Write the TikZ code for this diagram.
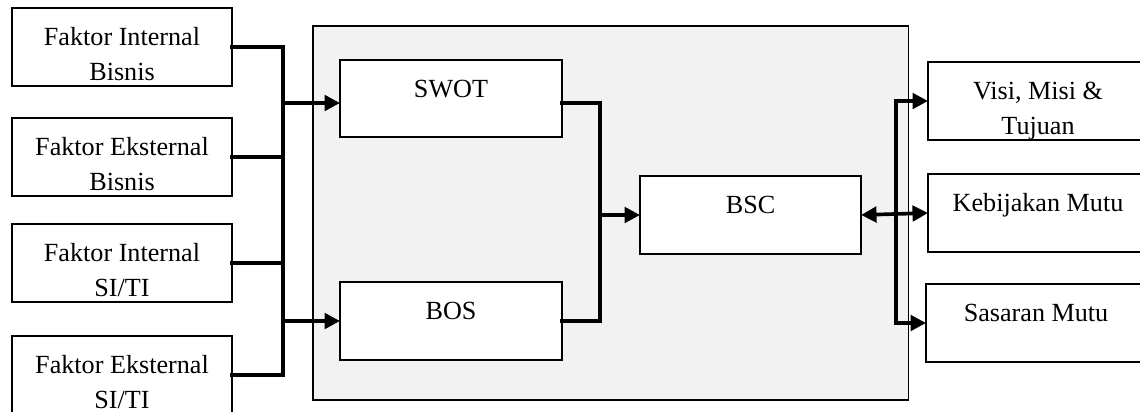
\documentclass[tikz,border=0pt]{standalone}
\usepackage{fontspec}
\setmainfont{Liberation Serif}
\usetikzlibrary{arrows.meta,calc,positioning}
\begin{document}
\begin{tikzpicture}[
      x=0.025cm, y=-0.025cm,
      kotak/.style = {draw, line width=1.1pt, fill=white, minimum width=5.5cm,
                      minimum height=1.95cm, inner sep=0pt, outer sep=0pt, anchor=north west},
      teks/.style = {font=\fontsize{18.6}{24.8}\selectfont, align=center, inner sep=0pt, anchor=base},
      alir/.style = {line width=2.6pt, line cap=rect},
      panah/.style = {alir, -{Triangle[length=11pt,width=11pt]}},
      dua/.style = {alir, {Triangle[length=11pt,width=11pt]}-{Triangle[length=11pt,width=11pt]}}
      ]
      \useasboundingbox (0,0) rectangle (1140,412);
      \clip (0,0) rectangle (1140,412);
      % panel tengah
      \node[draw, line width=0.9pt, fill=gray!10, minimum width=14.875cm, minimum height=9.35cm,
            inner sep=0pt, outer sep=0pt, anchor=north west] (panel) at (313,26) {};
      % kotak kiri
      \node[kotak] (fib) at (12,8) {};
      \node[kotak] (feb) at (12,118) {};
      \node[kotak] (fis) at (12,224) {};
      \node[kotak] (fes) at (12,336) {};
      % kotak tengah
      \node[kotak, minimum width=5.55cm, minimum height=1.925cm] (swot) at (340,60) {};
      \node[kotak, minimum width=5.55cm, minimum height=1.95cm] (bos) at (340,282) {};
      \node[kotak, minimum width=5.525cm] (bsc) at (640,176) {};
      % kotak kanan
      \node[kotak] (visi) at (928,62) {};
      \node[kotak] (keb) at (928,174) {};
      \node[kotak] (sas) at (926,284) {};
      % teks (dua baris: base = baris terakhir)
      \node[teks] (fib-t) at ([yshift=-1.815cm]fib.north) {Faktor Internal\\Bisnis};
      \node[teks] (feb-t) at ([yshift=-1.815cm]feb.north) {Faktor Eksternal\\Bisnis};
      \node[teks] (fis-t) at ([yshift=-1.815cm]fis.north) {Faktor Internal\\SI/TI};
      \node[teks] (fes-t) at ([yshift=-1.815cm]fes.north) {Faktor Eksternal\\SI/TI};
      \node[teks] (swot-t) at ([yshift=-0.94cm]swot.north) {SWOT};
      \node[teks] (bos-t) at ([yshift=-0.94cm]bos.north) {BOS};
      \node[teks] (bsc-t) at ([yshift=-0.94cm]bsc.north) {BSC};
      \node[teks] (visi-t) at ([yshift=-1.815cm]visi.north) {Visi, Misi \&\\Tujuan};
      \node[teks] (keb-t) at ([yshift=-0.94cm]keb.north) {Kebijakan Mutu};
      \node[teks] (sas-t) at ([yshift=-0.94cm]sas.north) {Sasaran Mutu};
      % garis bantu
      \coordinate (busL) at (283,0);
      \coordinate (busM) at (600,0);
      \coordinate (busR) at (896,0);
      \draw[alir] (fib.east) -- (fib.east -| busL) -- (fes.east -| busL) -- (fes.east);
      \draw[alir] (feb.east) -- (feb.east -| busL);
      \draw[alir] (fis.east) -- (fis.east -| busL);
      \draw[panah] ([yshift=-3.2pt]swot.west -| busL) -- ([yshift=-3.2pt]swot.west);
      \draw[panah] (bos.west -| busL) -- (bos.west);
      \draw[alir] ([yshift=-3.2pt]swot.east) -| (busM |- bos.east) -- (bos.east);
      \draw[panah] (bsc.west -| busM) -- (bsc.west);
      \draw[dua] (bsc.east) -- (keb.west);
      \draw[alir] (visi.west -| busR) -- (sas.west -| busR);
      \draw[panah] (visi.west -| busR) -- (visi.west);
      \draw[panah] (sas.west -| busR) -- (sas.west);
    \end{tikzpicture}
\end{document}
